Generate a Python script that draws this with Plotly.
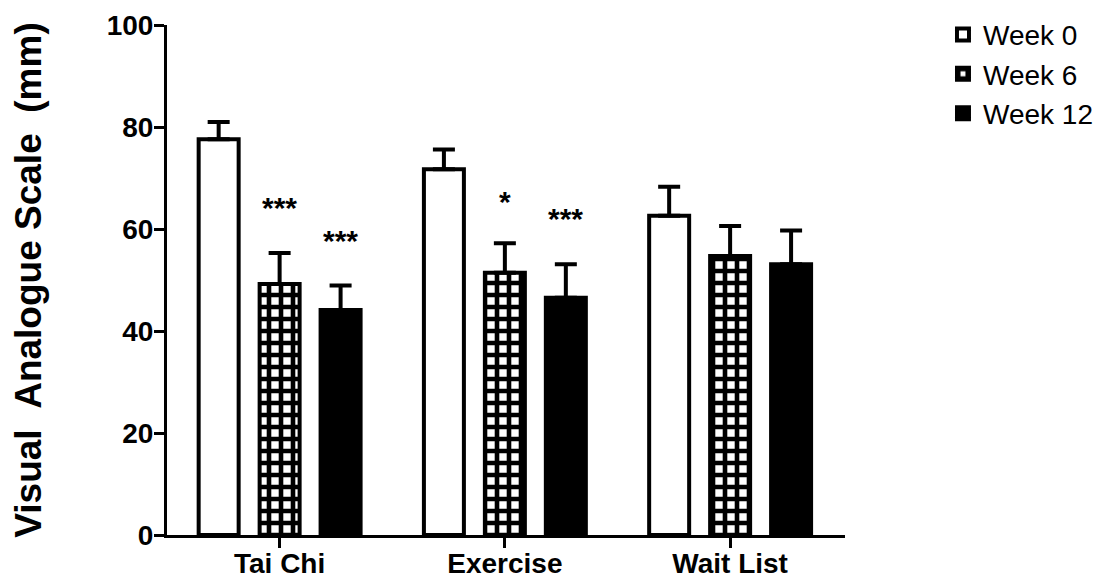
import plotly.graph_objects as go

categories = ["Tai Chi", "Exercise", "Wait List"]
series_names = ["Week 0", "Week 6", "Week 12"]
week0 = [77.6, 71.7, 62.6]
week0_err = [3.4, 3.9, 5.7]
week6 = [49.2, 51.4, 54.7]
week6_err = [6.1, 5.8, 5.9]
week12 = [44.1, 46.5, 53.1]
week12_err = [4.8, 6.6, 6.6]
sig_week6 = ["***", "*", ""]
sig_week12 = ["***", "***", ""]
y_ticks = [0, 20, 40, 60, 80, 100]

FONT = "Liberation Sans, Arial, sans-serif"
BARGAP = 0.188
BARGROUPGAP = 0.344

fig = go.Figure()

def err(vals):
    return dict(type="data", array=vals, arrayminus=[0] * len(vals), symmetric=False,
                color="black", thickness=4, width=11)

fig.add_trace(go.Bar(
    name=series_names[0], x=categories, y=week0, error_y=err(week0_err),
    marker=dict(color="white", line=dict(color="black", width=4)),
))
fig.add_trace(go.Bar(
    name=series_names[1], x=categories, y=week6, error_y=err(week6_err),
    marker=dict(color="white", line=dict(color="black", width=4),
                pattern=dict(shape="+", fgcolor="black", bgcolor="white",
                             size=12, solidity=0.62, fillmode="replace")),
))
fig.add_trace(go.Bar(
    name=series_names[2], x=categories, y=week12, error_y=err(week12_err),
    marker=dict(color="black", line=dict(color="black", width=4)),
))

slot = (1 - BARGAP) / 3
for i, cat in enumerate(categories):
    for sig, vals, errs, off in ((sig_week6, week6, week6_err, 0.0),
                                 (sig_week12, week12, week12_err, slot)):
        if sig[i]:
            fig.add_annotation(
                x=i + off, y=vals[i] + errs[i], xref="x", yref="y",
                text=sig[i], showarrow=False, yanchor="bottom",
                yshift=27 if len(sig[i]) > 1 else 23,
                font=dict(family=FONT, size=30, color="black", weight="bold"),
            )

fig.update_layout(
    width=1104, height=570,
    margin=dict(l=159, r=267, t=17, b=43, autoexpand=False),
    paper_bgcolor="white", plot_bgcolor="white",
    barmode="group", bargap=BARGAP, bargroupgap=BARGROUPGAP,
    font=dict(family=FONT, color="black"),
    showlegend=True,
    legend=dict(x=1.1445, y=1.03, xanchor="left", yanchor="top",
                font=dict(family=FONT, size=28, color="black"),
                bgcolor="rgba(0,0,0,0)"),
)
fig.update_xaxes(
    type="category", range=[-0.5, 2.51], automargin=False,
    showline=True, linecolor="black", linewidth=3,
    ticks="outside", ticklen=10, tickwidth=3, tickcolor="black",
    ticklabelstandoff=-9,
    tickfont=dict(family=FONT, size=28, color="black", weight="bold"),
    showgrid=False, zeroline=False,
)
fig.update_yaxes(
    range=[0, 100], tickvals=y_ticks, automargin=False,
    showline=True, linecolor="black", linewidth=3,
    ticks="outside", ticklen=10, tickwidth=3, tickcolor="black",
    ticklabelstandoff=-5,
    tickfont=dict(family=FONT, size=28, color="black", weight="bold"),
    showgrid=False, zeroline=False,
    title=dict(text="Visual\u00a0\u00a0Analogue Scale\u00a0\u00a0(mm)",
               font=dict(family=FONT, size=37, color="black", weight="bold"),
               standoff=57),
)

fig.write_html("out.html")
